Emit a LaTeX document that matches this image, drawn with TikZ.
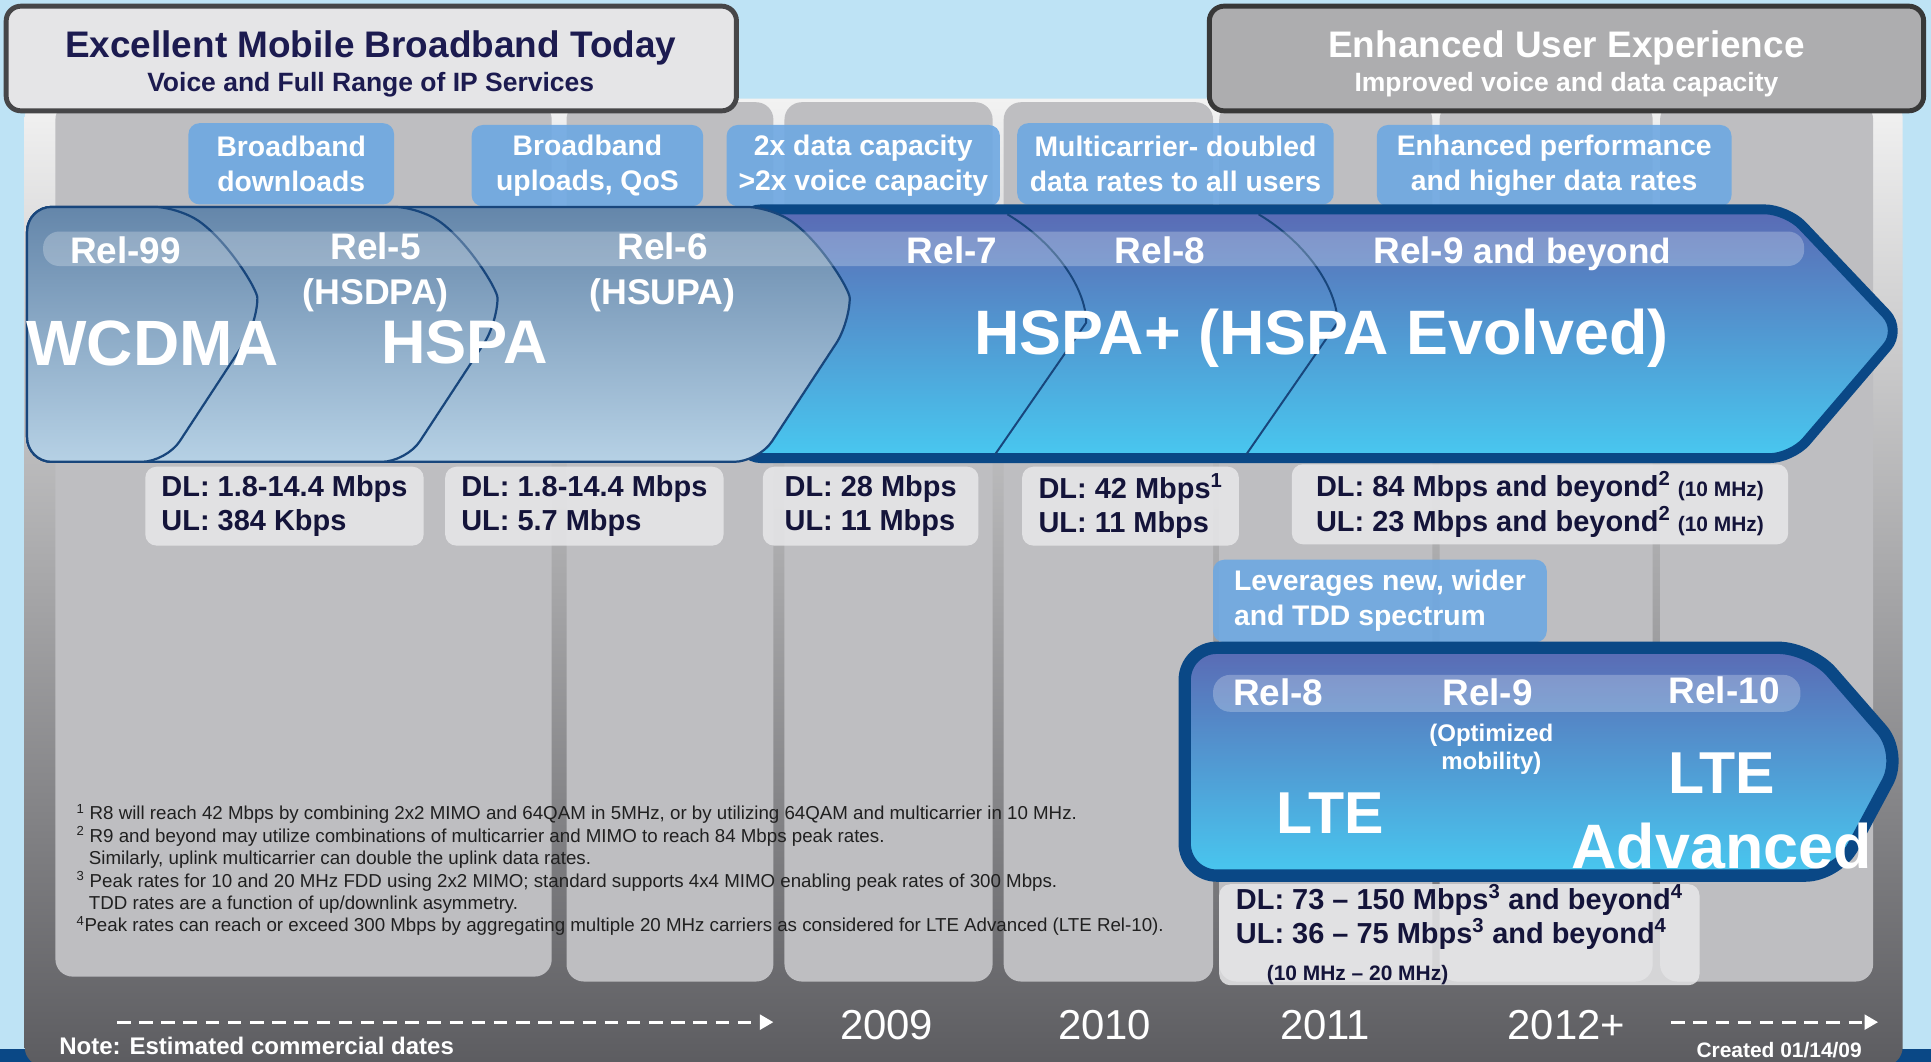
\documentclass[tikz,border=0pt]{standalone}
\usepackage{fontspec}
\setmainfont{Liberation Sans}
\usetikzlibrary{arrows.meta}

\definecolor{skyback}{RGB}{190,227,245}
\definecolor{navyline}{RGB}{10,72,134}
\definecolor{titlenavy}{RGB}{28,27,80}
\definecolor{headlight}{RGB}{229,229,231}
\definecolor{headdark}{RGB}{173,173,175}
\definecolor{headedge}{RGB}{70,70,72}
\definecolor{panelhi}{RGB}{242,242,242}
\definecolor{panelmid}{RGB}{185,185,188}
\definecolor{panellow}{RGB}{92,92,96}
\definecolor{colgray}{RGB}{190,190,193}
\definecolor{featblue}{RGB}{110,168,226}
\definecolor{rategray}{RGB}{232,232,234}
\definecolor{ratetext}{RGB}{20,20,58}
\definecolor{notetext}{RGB}{32,32,32}
\definecolor{chevtop}{RGB}{100,134,170}
\definecolor{chevbot}{RGB}{182,209,229}
\definecolor{chevline}{RGB}{24,70,124}
\definecolor{plustop}{RGB}{90,106,180}
\definecolor{plusmid}{RGB}{84,168,220}
\definecolor{plusbot}{RGB}{72,200,240}

\tikzstyle{every node}=[inner sep=0pt]
\tikzstyle{headbox}=[rounded corners=12pt, line width=4pt, minimum width=593pt, minimum height=85pt]
\tikzstyle{featbox}=[fill=featblue, fill opacity=0.9, text opacity=1, text=white, rounded corners=9pt, align=center, font=\fontsize{23}{28.5}\selectfont\bfseries]
\tikzstyle{ratebox}=[fill=rategray, fill opacity=0.85, text opacity=1, text=ratetext, rounded corners=9pt, align=left, font=\fontsize{23.5}{28}\selectfont\bfseries]
\tikzstyle{rellabel}=[anchor=base, text=white, font=\fontsize{30}{34}\selectfont\bfseries]
\tikzstyle{techlabel}=[anchor=base, text=white, font=\fontsize{51}{58}\selectfont\bfseries]
\tikzstyle{yearlabel}=[anchor=base, text=white, font=\fontsize{34}{40}\selectfont]
\tikzstyle{timeline}=[white, line width=2.5pt, dash pattern=on 11pt off 7pt, -{Triangle[length=11pt,width=12pt]}]

\begin{document}
\begin{tikzpicture}[x=1pt,y=-1pt]
\useasboundingbox (0,0) rectangle (1568,862);
\fill[skyback] (0,0) rectangle (1568,862);
\fill[navyline] (0,852) rectangle (1568,862);

% gray panel and year columns
\shade[rounded corners=16pt, top color=panelhi, middle color=panelmid, bottom color=panellow] (20,80) rectangle (1545,866);
\foreach \xa/\xb/\yb in {45/448/793, 460/628/797, 637/806/797, 815/985/797, 990/1163/797, 1169/1342/797, 1348/1521/797}
  \fill[colgray, rounded corners=14pt] (\xa,83) rectangle (\xb,\yb);

% headers
\node[headbox, fill=headlight, draw=headedge] (hleft) at (301.5,47.5) {};
\node[anchor=base, text=titlenavy, font=\fontsize{30}{34}\selectfont\bfseries] (tleft) at (301,46.5) {Excellent Mobile Broadband Today};
\node[anchor=base, text=titlenavy, font=\fontsize{21.5}{26}\selectfont\bfseries] (sleft) at (301,74.5) {Voice and Full Range of IP Services};
\node[headbox, fill=headdark, draw=black!78, minimum width=580pt] (hright) at (1272,47.5) {};
\node[anchor=base, text=white, font=\fontsize{30}{34}\selectfont\bfseries] (tright) at (1272,46.5) {Enhanced User Experience};
\node[anchor=base, text=white, font=\fontsize{21.5}{26}\selectfont\bfseries] (sright) at (1272,74.5) {Improved voice and data capacity};

% feature boxes
\node[featbox, minimum width=167pt, minimum height=66pt] (fdown) at (236.5,133) {Broadband\\downloads};
\node[featbox, minimum width=188pt, minimum height=66pt] (fup) at (477,134.5) {Broadband\\uploads, QoS};
\node[featbox, minimum width=222pt, minimum height=66pt] (fcap) at (701,134.5) {2x data capacity\\>2x voice capacity};
\node[featbox, minimum width=257pt, minimum height=66pt] (fmulti) at (954.5,133) {Multicarrier- doubled\\data rates to all users};
\node[featbox, minimum width=288pt, minimum height=66pt] (fperf) at (1262,134.5) {Enhanced performance\\and higher data rates};

% HSPA+ arrow
\draw[navyline, line width=8pt, top color=plustop, middle color=plusmid, bottom color=plusbot, rounded corners=18pt]
  (600,170) -- (1451,170) -- (1544,268) -- (1455,372) -- (600,372) -- cycle;
\foreach \x in {818,1022}
  \draw[chevline, line width=1.6pt] (\x,174) .. controls (\x+40,198) and (\x+64,235) .. (\x+64,262) -- (\x-10,369);
% WCDMA / HSPA chevrons
\foreach \x in {626,340,145}
  \draw[chevline, line width=1.8pt, top color=chevtop, bottom color=chevbot, rounded corners=20pt]
    (\x-10,375) -- (\x+64,262) .. controls (\x+64,235) and (\x+40,196) .. (\x,168) -- (22,168) -- (22,375) -- cycle;
\fill[white, opacity=0.25, rounded corners=13pt] (35,188) rectangle (1465,216);

\node[rellabel] (r99) at (102,214) {Rel-99};
\node[rellabel] (r5) at (305,211) {Rel-5};
\node[rellabel, font=\fontsize{29}{34}\selectfont\bfseries] (hsdpa) at (305,247.5) {(HSDPA)};
\node[rellabel] (r6) at (538,211) {Rel-6};
\node[rellabel, font=\fontsize{29}{34}\selectfont\bfseries] (hsupa) at (538,247.5) {(HSUPA)};
\node[rellabel] (r7) at (773,214) {Rel-7};
\node[rellabel] (r8) at (942,214) {Rel-8};
\node[rellabel] (r9) at (1236,214) {Rel-9 {\fontsize{28.5}{30}\selectfont and beyond}};
\node[techlabel, font=\fontsize{52}{58}\selectfont\bfseries] (wcdma) at (124,297) {WCDMA};
\node[techlabel, font=\fontsize{50}{58}\selectfont\bfseries] (hspa) at (377,295) {HSPA};
\node[techlabel] (hspaplus) at (1073,288) {HSPA+ (HSPA Evolved)};

% peak rates
\node[ratebox, minimum width=226pt, minimum height=64pt] (rwcdma) at (231,411) {DL: 1.8-14.4 Mbps\\UL: 384 Kbps};
\node[ratebox, minimum width=226pt, minimum height=64pt] (rhspa) at (474.5,411) {DL: 1.8-14.4 Mbps\\UL: 5.7 Mbps};
\node[ratebox, minimum width=175pt, minimum height=64pt] (rrel7) at (707,411) {DL: 28 Mbps\\UL: 11 Mbps};
\node[ratebox, minimum width=176pt, minimum height=64pt] (rrel8) at (918,411) {DL: 42 Mbps\textsuperscript{1}\\UL: 11 Mbps};
\node[ratebox, minimum width=403pt, minimum height=65pt] (rrel9) at (1250.5,409.5)
  {DL: 84 Mbps and beyond\textsuperscript{2}\hspace{6pt}{\fontsize{17}{20}\selectfont (10 MHz)}\\UL: 23 Mbps and beyond\textsuperscript{2}\hspace{6pt}{\fontsize{17}{20}\selectfont (10 MHz)}};

% LTE
\node[featbox, align=left, minimum width=271pt, minimum height=67pt] (fwide) at (1120.5,488) {Leverages new, wider\\and TDD spectrum};
\draw[navyline, line width=10pt, top color=plustop, middle color=plusbot, bottom color=plusbot, rounded corners=26pt]
  (962,526) -- (1470,526) -- (1545,612) -- (1492,711) -- (962,711) -- cycle;
\fill[white, opacity=0.25, rounded corners=14pt] (985,548) rectangle (1462,578);
\node[rellabel] (lr8) at (1038,572.5) {Rel-8};
\node[rellabel] (lr9) at (1208,572.5) {Rel-9};
\node[rellabel] (lr10) at (1400,571) {Rel-10};
\node[text=white, align=center, font=\fontsize{19.5}{23}\selectfont\bfseries] (optim) at (1211,608.5) {(Optimized\\mobility)};
\node[techlabel, font=\fontsize{48}{56}\selectfont\bfseries] (lte) at (1080,677) {LTE};
\node[techlabel, font=\fontsize{48}{56}\selectfont\bfseries] (ltea) at (1398,644) {LTE};
\node[techlabel] (advanced) at (1398,705) {Advanced};
\node[ratebox, minimum width=390pt, minimum height=77pt] (rlte) at (1185,759)
  {DL: 73 -- 150 Mbps\textsuperscript{3} and beyond\textsuperscript{4}\\UL: 36 -- 75 Mbps\textsuperscript{3} and beyond\textsuperscript{4}\\[2pt]\hspace*{25pt}\fontsize{17}{20}\selectfont (10 MHz -- 20 MHz)};

% footnotes
\node[anchor=north west, align=left, text=notetext, font=\fontsize{15.2}{18.2}\selectfont] (fnotes) at (62,653)
  {\textsuperscript{1} R8 will reach 42 Mbps by combining 2x2 MIMO and 64QAM in 5MHz, or by utilizing 64QAM and multicarrier in 10 MHz.\\
   \textsuperscript{2} R9 and beyond may utilize combinations of multicarrier and MIMO to reach 84 Mbps peak rates.\\
   \hspace*{10pt}Similarly, uplink multicarrier can double the uplink data rates.\\
   \textsuperscript{3} Peak rates for 10 and 20 MHz FDD using 2x2 MIMO; standard supports 4x4 MIMO enabling peak rates of 300 Mbps.\\
   \hspace*{10pt}TDD rates are a function of up/downlink asymmetry.\\
   \textsuperscript{4}Peak rates can reach or exceed 300 Mbps by aggregating multiple 20 MHz carriers as considered for LTE Advanced (LTE Rel-10).};

% timeline
\coordinate (pastA) at (95,830);
\coordinate (pastB) at (628,830);
\coordinate (nextA) at (1357,830);
\coordinate (nextB) at (1525,830);
\draw[timeline] (pastA) -- (pastB);
\draw[timeline] (nextA) -- (nextB);
\node[yearlabel] (y2009) at (720,844) {2009};
\node[yearlabel] (y2010) at (897,844) {2010};
\node[yearlabel] (y2011) at (1076,844) {2011};
\node[yearlabel] (y2012) at (1272,844) {2012+};
\node[anchor=base west, text=white, font=\fontsize{19.5}{22}\selectfont\bfseries] (note) at (48,856) {Note: Estimated commercial dates};
\node[anchor=base east, text=white, font=\fontsize{17}{20}\selectfont\bfseries] (created) at (1512,859) {Created 01/14/09};
\end{tikzpicture}
\end{document}
